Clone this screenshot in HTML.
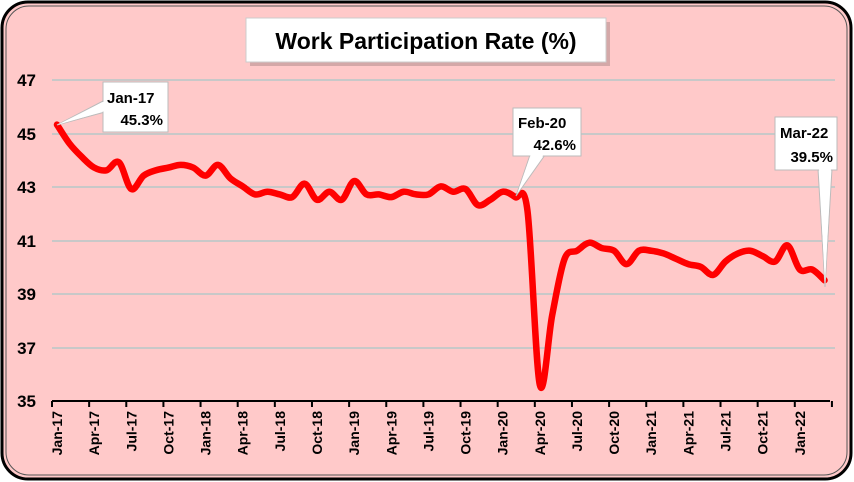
<!DOCTYPE html>
<html><head><meta charset="utf-8"><style>
html,body{margin:0;padding:0;background:#fff}
svg{display:block;font-family:"Liberation Sans",Arial,sans-serif}
</style></head><body>
<svg id="s" width="854" height="482" xmlns="http://www.w3.org/2000/svg">
<rect x="2" y="2" width="849" height="477" rx="26" fill="#ffc9c9" stroke="#000" stroke-width="3"/>
<rect x="6" y="6" width="841" height="469" rx="23" fill="none" stroke="#555" stroke-width="1"/>
<rect x="250" y="22" width="360" height="44" fill="#a88" opacity="0.5"/>
<rect x="246" y="18" width="360" height="44" fill="#fff" stroke="#ccc"/>
<text x="426" y="49" font-size="23" font-weight="bold" text-anchor="middle">Work Participation Rate (%)</text>
<g stroke="#c8c8c8" stroke-width="2">
<line x1="52" y1="80" x2="835" y2="80"/><line x1="52" y1="134" x2="835" y2="134"/>
<line x1="52" y1="187" x2="835" y2="187"/><line x1="52" y1="241" x2="835" y2="241"/>
<line x1="52" y1="294" x2="835" y2="294"/><line x1="52" y1="348" x2="835" y2="348"/>
</g>
<g font-size="17" font-weight="bold" text-anchor="end">
<text x="36" y="86">47</text><text x="36" y="140">45</text><text x="36" y="193">43</text>
<text x="36" y="247">41</text><text x="36" y="300">39</text><text x="36" y="354">37</text><text x="36" y="407">35</text>
</g>
<g id="ax"></g>
<path id="ln" fill="none" stroke="#ff0000" stroke-width="6.5" stroke-linejoin="round" stroke-linecap="round"/>
<polygon points="57,125 105,112 105,100" fill="#fff" stroke="#bbb"/>
<rect x="103" y="82" width="65" height="50" fill="#fff" stroke="#bbb"/>
<polygon points="105,101 105,111 57,125" fill="#fff"/>
<text x="107" y="103" font-size="15" font-weight="bold">Jan-17</text>
<text x="163" y="125" font-size="15" font-weight="bold" text-anchor="end">45.3%</text>
<polygon points="516,196 530,155 545,155" fill="#fff" stroke="#bbb"/>
<rect x="513" y="108" width="68" height="48" fill="#fff" stroke="#bbb"/>
<polygon points="531,154 544,154 517,194" fill="#fff"/>
<text x="518" y="128" font-size="15" font-weight="bold">Feb-20</text>
<text x="576" y="150" font-size="15" font-weight="bold" text-anchor="end">42.6%</text>
<polygon points="825,287 818,169 832,169" fill="#fff" stroke="#bbb"/>
<rect x="775" y="117" width="62" height="53" fill="#fff" stroke="#bbb"/>
<polygon points="819,168 831,168 825,285" fill="#fff"/>
<text x="780" y="138" font-size="15" font-weight="bold">Mar-22</text>
<text x="833" y="162" font-size="15" font-weight="bold" text-anchor="end">39.5%</text>
</svg>
<script>
var d=[45.3,44.6,44.1,43.7,43.6,43.9,42.9,43.4,43.6,43.7,43.8,43.7,43.4,43.8,43.3,43.0,42.7,42.8,42.7,42.6,43.1,42.5,42.8,42.5,43.2,42.7,42.7,42.6,42.8,42.7,42.7,43.0,42.8,42.9,42.3,42.5,42.8,42.6,42.1,35.6,38.2,40.3,40.6,40.9,40.7,40.6,40.1,40.6,40.6,40.5,40.3,40.1,40.0,39.7,40.2,40.5,40.6,40.4,40.2,40.8,39.9,39.9,39.5];
function X(i){return 57+12.38*i}function Y(v){return 401-(v-35)*26.83}
var p=d.map(function(v,i){return[X(i),Y(v)]});
var s="M"+p[0][0]+","+p[0][1];
for(var i=0;i<p.length-1;i++){var a=p[Math.max(i-1,0)],b=p[i],c=p[i+1],e=p[Math.min(i+2,p.length-1)];
s+=" C"+(b[0]+(c[0]-a[0])/6)+","+(b[1]+(c[1]-a[1])/6)+" "+(c[0]-(e[0]-b[0])/6)+","+(c[1]-(e[1]-b[1])/6)+" "+c[0]+","+c[1];}
document.getElementById("ln").setAttribute("d",s);
var L=["Jan-17","Apr-17","Jul-17","Oct-17","Jan-18","Apr-18","Jul-18","Oct-18","Jan-19","Apr-19","Jul-19","Oct-19","Jan-20","Apr-20","Jul-20","Oct-20","Jan-21","Apr-21","Jul-21","Oct-21","Jan-22"];
var g='<line x1="52" y1="401" x2="830" y2="401" stroke="#000" stroke-width="2"/>';
for(var k=0;k<=21;k++){var x=52+37.14*k;g+='<line x1="'+x+'" y1="401" x2="'+x+'" y2="407" stroke="#000" stroke-width="2"/>';}
L.forEach(function(t,k){var x=57+37.14*k+5;g+='<text transform="translate('+x+',411) rotate(-90)" font-size="14" font-weight="bold" text-anchor="end">'+t+'</text>';});
document.getElementById("ax").innerHTML=g;
</script>
</body></html>
